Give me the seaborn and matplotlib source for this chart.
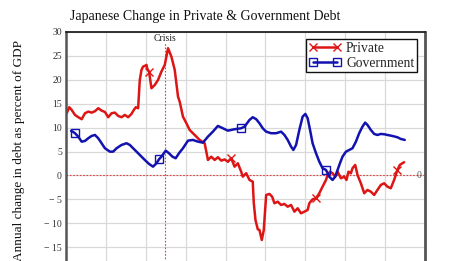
import numpy as np
import pandas as pd
import matplotlib
matplotlib.use("Agg")
import matplotlib.pyplot as plt
import seaborn as sns

# ---------------- data ----------------
private_year = [1978.09, 1978.41, 1978.71, 1979.13, 1979.54, 1979.96, 1980.38, 1980.79, 1981.21, 1981.63,
                1982.04, 1982.46, 1982.88, 1983.29, 1983.71, 1984.13, 1984.54, 1984.96, 1985.38, 1985.79,
                1986.21, 1986.50, 1986.75, 1987.04, 1987.25, 1987.46, 1987.66, 1987.88, 1988.09, 1988.16,
                1988.41, 1988.71, 1989.13, 1989.54, 1989.96, 1990.38, 1990.79, 1991.21, 1991.63, 1992.04,
                1992.25, 1992.66, 1993.09, 1993.50, 1993.91, 1994.34, 1994.75, 1995.38, 1995.79, 1996.21,
                1996.63, 1997.04, 1997.46, 1997.88, 1998.29, 1998.71, 1999.13, 1999.54, 1999.96, 2000.16,
                2000.59, 2001.00, 2001.41, 2001.54, 2001.75, 2002.04, 2002.25, 2002.54, 2002.79, 2003.09,
                2003.50, 2003.84, 2004.13, 2004.54, 2004.96, 2005.38, 2005.79, 2006.21, 2006.63, 2007.04,
                2007.46, 2007.88, 2008.29, 2008.50, 2008.91, 2009.34, 2009.75, 2010.16, 2010.59, 2010.79,
                2011.09, 2011.41, 2011.75, 2012.04, 2012.46, 2012.88, 2013.16, 2013.41, 2013.71, 2013.91,
                2014.25, 2014.54, 2014.96, 2015.38, 2015.79, 2016.21, 2016.63, 2017.04, 2017.46, 2017.88,
                2018.29, 2018.71, 2019.13, 2019.54, 2019.84, 2020.16, 2020.38]
private_value = [13.01, 14.27, 13.70, 12.66, 12.18, 11.76, 13.01, 13.35, 13.14, 13.43,
                 14.06, 13.56, 13.28, 12.18, 13.01, 13.14, 12.45, 12.18, 12.66, 12.18,
                 12.87, 13.70, 14.27, 14.06, 19.98, 22.07, 22.76, 22.91, 23.12, 22.43,
                 21.72, 18.24, 18.93, 19.98, 21.72, 23.12, 26.61, 24.85, 22.07, 16.49,
                 15.44, 12.30, 10.92, 9.52, 8.83, 8.12, 7.43, 6.74, 3.24, 3.93,
                 3.24, 3.81, 3.10, 3.35, 2.89, 3.60, 1.84, 2.55, 0.79, -0.25,
                 0.46, -0.94, -1.30, -5.82, -9.31, -11.26, -11.40, -13.49, -11.40, -4.08,
                 -3.87, -4.44, -5.82, -5.48, -6.17, -5.96, -6.53, -6.17, -7.57, -6.86,
                 -7.91, -7.57, -7.22, -5.82, -4.98, -4.77, -3.72, -2.34, -0.94, 0.10,
                 0.79, 0.46, -0.25, 0.79, -0.59, -0.25, -0.94, 0.79, 0.46, 1.51,
                 2.20, 0.10, -1.63, -3.72, -3.03, -3.39, -4.08, -3.03, -1.99, -1.63,
                 -2.34, -2.68, -0.94, 1.15, 2.20, 2.55, 2.76]

govt_year = [1978.63, 1978.84, 1979.13, 1979.54, 1979.96, 1980.38, 1980.79, 1981.21, 1981.63, 1982.04,
             1982.46, 1982.88, 1983.50, 1983.91, 1984.34, 1984.96, 1985.59, 1986.00, 1986.63, 1987.25,
             1987.88, 1988.41, 1988.91, 1989.34, 1989.66, 1989.96, 1990.50, 1990.91, 1991.34, 1991.75,
             1992.16, 1992.66, 1993.29, 1993.91, 1994.54, 1995.16, 1995.79, 1996.41, 1997.04, 1997.66,
             1998.29, 1999.13, 1999.96, 2000.38, 2001.00, 2001.41, 2001.84, 2002.25, 2002.66, 2003.09,
             2003.71, 2004.34, 2004.96, 2005.38, 2005.79, 2006.21, 2006.50, 2006.84, 2007.25, 2007.66,
             2008.00, 2008.29, 2008.59, 2008.91, 2009.34, 2009.75, 2010.16, 2010.59, 2011.00, 2011.41,
             2011.75, 2012.04, 2012.34, 2012.66, 2013.09, 2013.50, 2013.91, 2014.34, 2014.75, 2015.16,
             2015.50, 2015.79, 2016.21, 2016.63, 2017.04, 2017.46, 2017.88, 2018.29, 2018.91, 2019.54,
             2019.96, 2020.46]
govt_value = [9.31, 9.16, 8.83, 8.12, 7.07, 7.22, 7.78, 8.26, 8.47, 7.78,
              6.74, 5.69, 4.98, 4.98, 5.69, 6.38, 6.74, 6.38, 5.33, 4.29,
              3.24, 2.41, 1.84, 2.55, 3.39, 3.93, 5.19, 4.64, 3.93, 3.60,
              4.64, 5.69, 7.28, 7.43, 7.07, 6.86, 8.12, 9.16, 10.36, 9.87,
              9.37, 9.67, 9.87, 10.21, 11.61, 12.18, 11.76, 10.92, 9.87, 9.16,
              8.83, 8.83, 9.16, 8.47, 7.43, 6.03, 5.33, 6.38, 9.52, 12.30,
              12.87, 11.97, 9.52, 6.74, 4.64, 2.89, 1.51, 1.15, -0.25, -0.94,
              -0.25, 1.15, 2.55, 3.93, 4.98, 5.33, 5.69, 7.07, 8.83, 10.21,
              11.05, 10.56, 9.52, 8.68, 8.47, 8.68, 8.62, 8.47, 8.26, 7.99,
              7.64, 7.43]

crisis_year = 1990.4
ytick_values = [-20, -15, -10, -5, 0, 5, 10, 15, 20, 25, 30]
ytick_labels = ["", "\u2212 15", "\u2212 10", "\u2212 5", "0", "5", "10", "15", "20", "25", "30"]
title = "Japanese Change in Private & Government Debt"
ylabel = "Annual change in debt as percent of GDP"

# ---------------- style ----------------
sns.set_theme(style="white")
plt.rcParams["font.family"] = ["Liberation Serif", "DejaVu Serif"]

RED = "#dd1515"
BLUE = "#1212b0"

fig = plt.figure(figsize=(4.5, 2.61), dpi=100)
ax = fig.add_axes([66 / 450, -0.0387, (425 - 66) / 450, 0.9161])

priv_marks = [1988.5, 1998.9, 2009.25, 2019.6]
gov_marks = [1979.13, 1989.66, 1999.96, 2010.4]
priv_idx = [int(np.argmin(np.abs(np.array(private_year) - m))) for m in priv_marks]
gov_idx = [int(np.argmin(np.abs(np.array(govt_year) - m))) for m in gov_marks]

sns.lineplot(x=private_year, y=private_value, ax=ax, color=RED, lw=1.8,
             marker="x", markersize=6, markeredgewidth=1.0, markeredgecolor=RED,
             markerfacecolor=RED, markevery=priv_idx,
             label="Private", errorbar=None)
sns.lineplot(x=govt_year, y=govt_value, ax=ax, color=BLUE, lw=1.8,
             marker="s", markersize=6, markerfacecolor="none", markeredgecolor=BLUE,
             markeredgewidth=1.0, markevery=gov_idx, label="Government", errorbar=None)

ax.set_xlim(1978, 2023)
ax.set_ylim(-20, 30)
ax.set_xticks(np.arange(1978, 2024, 5))
ax.set_xticklabels([])
ax.set_yticks(ytick_values)
ax.set_yticklabels(ytick_labels)
ax.tick_params(axis="both", length=0, pad=3, labelsize=7, labelcolor="#333333")
ax.grid(True, color="#d9d9d9", lw=0.9)
ax.set_axisbelow(True)

ax.axhline(0, color="#e04040", lw=0.8, ls=(0, (1.5, 1.5)), zorder=1)
ax.axvline(crisis_year, color="#e04040", lw=0.8, ls=(0, (1.5, 1.5)), zorder=1)
ax.text(crisis_year, 28.66, "Crisis", ha="center", va="center", fontsize=7, color="#222222",
        bbox=dict(facecolor="white", edgecolor="none", pad=0.3), zorder=3)
ax.text(0.983, 0, "0", transform=ax.get_yaxis_transform(), ha="center", va="center",
        fontsize=7, color="#555555")

for side, (c, w) in {"left": ("#555555", 1.8), "right": ("#555555", 2.0),
                     "top": ("#222222", 1.3), "bottom": ("#555555", 1.0)}.items():
    ax.spines[side].set_color(c)
    ax.spines[side].set_linewidth(w)
    ax.spines[side].set_visible(True)

ax.set_ylabel("")
fig.text(0.042, 0.425, ylabel, rotation=90, ha="center", va="center", fontsize=9.5, color="#111111")
fig.text(0.455, 0.935, title, ha="center", va="center", fontsize=10, color="#111111")

leg = ax.legend(loc="upper right", bbox_to_anchor=(0.978, 0.971), borderaxespad=0,
                fontsize=9.8, numpoints=2, handlelength=2.4, handletextpad=0.35,
                borderpad=0.2, labelspacing=0.15, frameon=True, fancybox=False)
leg.get_frame().set_edgecolor("#111111")
leg.get_frame().set_linewidth(1.0)
leg.get_frame().set_facecolor("white")
leg.get_frame().set_alpha(1)

fig.savefig("out.png", dpi=100)
